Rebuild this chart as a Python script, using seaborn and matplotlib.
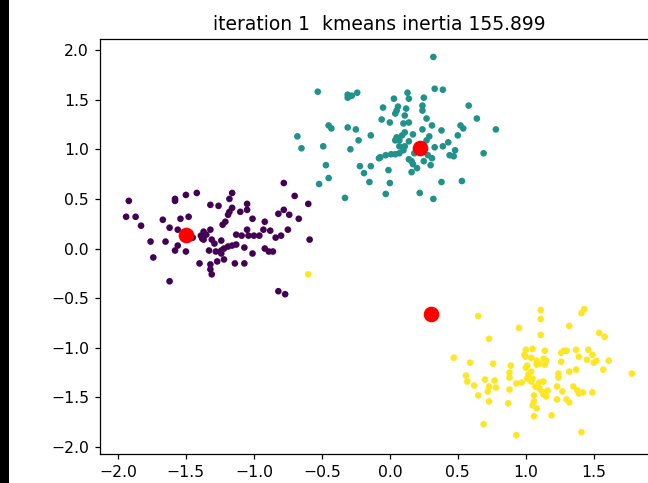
import matplotlib
matplotlib.use("Agg")
import matplotlib.pyplot as plt
import seaborn as sns
import pandas as pd
from matplotlib.patches import Rectangle

# ---- data ----
purple_x = [-1.92, -1.94, -1.87, -1.83, -1.76, -1.74, -1.62, -1.67, -1.62, -1.65,
            -1.58, -1.58, -1.50, -1.42, -1.54, -1.48, -1.56, -1.56, -1.58, -1.50,
            -1.45, -1.40, -1.37, -1.38, -1.32, -1.26, -1.32, -1.31, -1.29, -1.33,
            -1.32, -1.32, -1.31, -1.27, -1.22, -1.24, -1.24, -1.23, -1.21, -1.19,
            -1.18, -1.16, -1.18, -1.16, -1.10, -1.05, -1.05, -1.01, -1.05, -1.13,
            -1.09, -1.04, -1.00, -0.96, -1.19, -1.16, -1.13, -1.07, -1.01, -1.14,
            -1.07, -0.92, -0.93, -0.88, -0.92, -0.89, -0.86, -0.84, -0.80, -0.75,
            -0.82, -0.78, -0.74, -0.78, -0.70, -0.67, -0.60, -0.59, -0.82, -0.77,
            -1.39, -1.37, -1.35, -1.28, -1.22, -1.24]
purple_y = [0.48, 0.32, 0.32, 0.23, 0.07, -0.09, -0.33, 0.29, 0.21, 0.07,
            0.48, 0.50, 0.54, 0.56, 0.30, 0.32, 0.19, 0.03, -0.02, -0.03,
            0.11, -0.15, 0.17, 0.10, 0.44, 0.43, 0.19, 0.09, 0.05, -0.02,
            -0.16, -0.21, -0.26, -0.13, -0.11, 0.08, -0.02, 0.24, 0.27, 0.34,
            0.37, 0.41, 0.50, 0.56, 0.37, 0.45, 0.39, 0.30, 0.19, 0.14,
            0.13, 0.13, 0.13, 0.13, 0.02, 0.03, 0.04, 0.01, -0.05, -0.15,
            -0.15, 0.27, 0.19, 0.18, 0.00, -0.03, -0.03, 0.11, 0.13, 0.19,
            0.35, 0.39, 0.34, 0.66, 0.53, 0.30, 0.45, 0.09, -0.43, -0.46,
            0.13, 0.09, 0.14, -0.03, 0.00, -0.05]

teal_x = [0.32, -0.53, -0.31, -0.31, -0.28, -0.24, 0.33, 0.39, 0.13, 0.14,
          0.25, 0.24, 0.24, 0.03, -0.05, 0.06, 0.05, 0.04, 0.12, 0.58,
          -0.06, 0.00, 0.11, 0.10, 0.14, 0.27, 0.31, 0.64, -0.45, -0.43,
          -0.31, -0.25, -0.14, -0.23, -0.68, -0.65, -0.49, -0.29, -0.47, -0.45,
          -0.52, -0.33, -0.22, -0.19, -0.14, -0.15, -0.03, 0.00, -0.01, -0.08,
          -0.07, -0.03, 0.01, 0.04, 0.07, 0.10, 0.05, 0.07, 0.09, 0.11,
          0.14, 0.17, 0.24, 0.38, 0.43, 0.39, 0.33, 0.50, 0.52, 0.54,
          0.78, 0.48, 0.44, 0.47, 0.69, 0.14, 0.16, 0.17, 0.20, 0.16,
          0.25, 0.30, 0.31, 0.28, 0.27, 0.29, 0.22, 0.32, 0.38, 0.53,
          0.07, 0.11, 0.04, 0.18]
teal_y = [1.93, 1.58, 1.55, 1.52, 1.54, 1.57, 1.61, 1.60, 1.57, 1.51,
          1.52, 1.44, 1.39, 1.51, 1.42, 1.43, 1.39, 1.36, 1.41, 1.44,
          1.30, 1.27, 1.34, 1.26, 1.27, 1.31, 1.24, 1.31, 1.24, 1.21,
          1.22, 1.20, 1.14, 1.09, 1.13, 1.01, 1.03, 1.00, 0.84, 0.71,
          0.65, 0.51, 0.83, 0.76, 0.83, 0.67, 0.55, 0.66, 0.79, 0.91,
          0.92, 0.94, 0.95, 0.95, 0.96, 0.99, 1.12, 1.09, 1.14, 1.17,
          1.08, 1.15, 1.20, 1.19, 1.07, 1.03, 1.02, 1.14, 1.24, 1.21,
          1.20, 0.99, 0.94, 0.93, 0.96, 0.90, 0.88, 0.85, 0.81, 0.77,
          0.88, 0.84, 0.91, 0.94, 1.09, 1.13, 0.56, 0.50, 0.67, 0.68,
          1.03, 1.03, 1.09, 0.96]

yellow_x = [-0.60, 0.65, 1.11, 1.11, 1.43, 1.41, 0.95, 1.32, 1.11, 1.54,
            1.58, 0.73, 0.47, 0.59, 0.76, 0.56, 0.57, 0.62, 0.65, 0.70,
            0.77, 0.73, 0.72, 0.78, 0.73, 0.69, 0.89, 0.88, 0.88, 0.88,
            0.93, 0.97, 0.87, 0.93, 1.00, 0.99, 1.00, 1.04, 1.05, 1.00,
            1.01, 1.04, 1.02, 1.01, 1.04, 1.05, 1.08, 1.08, 1.10, 1.14,
            1.14, 1.15, 1.13, 1.10, 1.13, 1.07, 1.10, 1.12, 1.13, 1.16,
            1.15, 1.06, 1.06, 1.05, 1.08, 1.06, 1.19, 1.23, 1.23, 1.24,
            1.24, 1.26, 1.26, 1.28, 1.30, 1.27, 1.30, 1.32, 1.32, 1.37,
            1.37, 1.39, 1.35, 1.38, 1.39, 1.42, 1.46, 1.49, 1.45, 1.50,
            1.52, 1.49, 1.57, 1.61, 1.78, 1.41]
yellow_y = [-0.26, -0.68, -0.62, -0.71, -0.61, -0.65, -0.80, -0.78, -0.87, -0.85,
            -0.89, -0.91, -1.10, -1.15, -1.16, -1.28, -1.34, -1.38, -1.48, -1.32,
            -1.33, -1.39, -1.44, -1.40, -1.54, -1.77, -1.18, -1.25, -1.30, -1.42,
            -1.36, -1.35, -1.56, -1.88, -1.02, -1.07, -1.09, -1.10, -1.01, -1.20,
            -1.18, -1.24, -1.27, -1.31, -1.34, -1.31, -1.13, -1.17, -1.16, -1.03,
            -1.17, -1.13, -1.11, -1.35, -1.34, -1.39, -1.41, -1.44, -1.47, -1.43,
            -1.49, -1.48, -1.54, -1.58, -1.61, -1.69, -1.68, -1.39, -1.52, -1.30,
            -1.26, -1.14, -1.05, -1.03, -1.03, -1.44, -1.52, -1.55, -1.24, -1.22,
            -1.02, -1.09, -1.39, -1.43, -1.46, -1.45, -1.02, -1.07, -1.12, -1.15,
            -1.13, -1.45, -1.22, -1.13, -1.26, -1.85]

centroid_x = [-1.50, 0.22, 0.30]
centroid_y = [0.14, 1.01, -0.66]

title_text = "iteration 1  kmeans inertia 155.899"
x_ticks = [-2.0, -1.5, -1.0, -0.5, 0.0, 0.5, 1.0, 1.5]
y_ticks = [-2.0, -1.5, -1.0, -0.5, 0.0, 0.5, 1.0, 1.5, 2.0]

df = pd.concat([
    pd.DataFrame({"x": purple_x, "y": purple_y, "cluster": 0}),
    pd.DataFrame({"x": teal_x, "y": teal_y, "cluster": 1}),
    pd.DataFrame({"x": yellow_x, "y": yellow_y, "cluster": 2}),
], ignore_index=True)
cent = pd.DataFrame({"x": centroid_x, "y": centroid_y})

# ---- figure ----
DPI = 112.7
fig = plt.figure(figsize=(648 / DPI, 483 / DPI), dpi=DPI)
fig.patches.append(Rectangle((0, 0), 8.5 / 648, 1, transform=fig.transFigure,
                             facecolor="black", edgecolor="none", zorder=5))
ax = fig.add_axes([100 / 648, 29 / 483, 559 / 648, 415 / 483])

palette = {0: "#440154", 1: "#21918c", 2: "#fde725"}
sns.scatterplot(data=df, x="x", y="y", hue="cluster", palette=palette,
                s=18, linewidth=0, legend=False, ax=ax)
sns.scatterplot(data=cent, x="x", y="y", color="red", s=100, linewidth=0,
                legend=False, ax=ax)

ax.set_xlim(-2.132, 1.98)
ax.set_ylim(-2.07, 2.111)
ax.set_xticks(x_ticks)
ax.set_yticks(y_ticks)
ax.set_xlabel("")
ax.set_ylabel("")
ax.set_title(title_text, fontsize=12)
ax.tick_params(labelsize=10)

fig.savefig("out.png", dpi=DPI)
